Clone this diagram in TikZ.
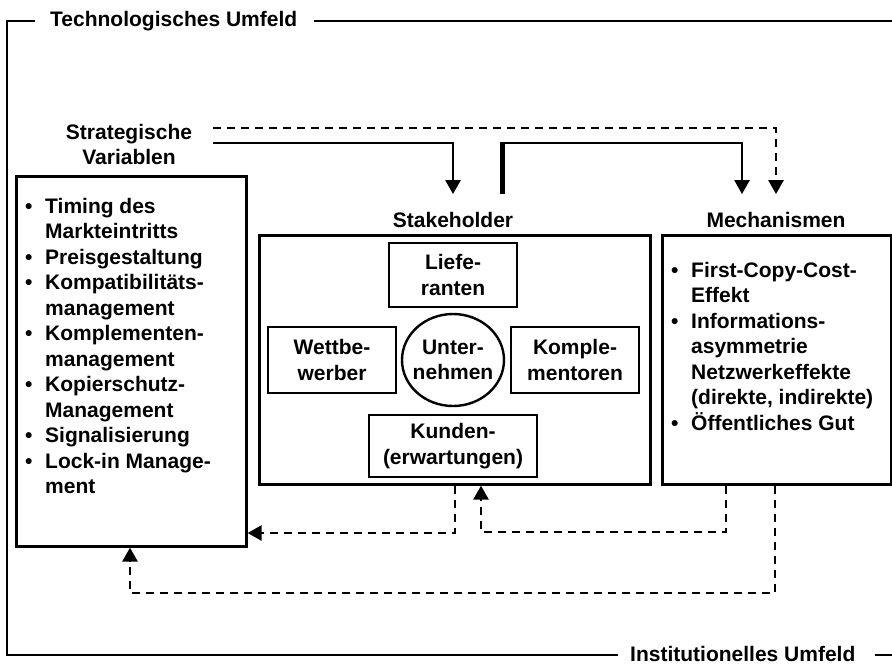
\documentclass[tikz,border=0pt]{standalone}
\usepackage{fontspec}
\setmainfont{Liberation Sans}
\usetikzlibrary{arrows.meta,shapes.geometric}
\newcommand{\bitem}[1]{\makebox[20pt][l]{\textbullet}#1}
\newcommand{\citem}[1]{\hspace*{20pt}#1}
\begin{document}
\begin{tikzpicture}[x=1pt,y=-1pt,
  txt/.style={font=\fontsize{21}{25.5}\selectfont\bfseries, inner sep=0pt, text=black},
  box/.style={draw, line width=2.6pt},
  ln/.style={line width=2.4pt},
  dsh/.style={line width=2.6pt, dash pattern=on 8pt off 6pt},
  arr/.style={-{Triangle[width=15pt,length=14pt]}},
]
\useasboundingbox (0,0) rectangle (892,665);

% frame
\node[txt, anchor=west] (tech) at (50,21) {Technologisches Umfeld};
\node[txt, anchor=west] (inst) at (630,654) {Institutionelles Umfeld};
\coordinate (cbl) at (7,655);
\coordinate (ctr) at (892,21);
\coordinate (cbr) at (892,655);
\draw[ln] ([xshift=-15pt]tech.west) -| (cbl) -- ([xshift=-12pt]inst.west |- cbl);
\draw[ln] ([xshift=17pt]tech.east) -- (ctr);
\draw[ln] ([xshift=19pt]inst.east |- cbr) -- (cbr);

% labels
\node[txt, align=center, anchor=north] (svl) at (129,124) {Strategische\\Variablen};
\node[txt, anchor=base] (stl) at (453,227) {Stakeholder};
\node[txt, anchor=base] (mcl) at (776,227) {Mechanismen};

% left box
\node[box, anchor=north west, minimum width=230pt, minimum height=370pt, inner sep=0pt] (sv) at (15,175) {};
\node[txt, align=left, anchor=north west] (svtext) at (25,198)
  {\bitem{Timing des}\\\citem{Markteintritts}\\\bitem{Preisgestaltung}\\\bitem{Kompatibilitäts-}\\\citem{management}\\\bitem{Komplementen-}\\\citem{management}\\\bitem{Kopierschutz-}\\\citem{Management}\\\bitem{Signalisierung}\\\bitem{Lock-in Manage-}\\\citem{ment}};

% mechanism box
\node[box, anchor=north west, minimum width=229pt, minimum height=249pt, inner sep=0pt] (mech) at (661,234) {};
\node[txt, align=left, anchor=north west] (mtext) at (671,262)
  {\bitem{First-Copy-Cost-}\\\citem{Effekt}\\\bitem{Informations-}\\\citem{asymmetrie}\\\citem{Netzwerkeffekte}\\\citem{(direkte, indirekte)}\\\bitem{Öffentliches Gut}};

% stakeholder box
\node[box, anchor=north west, minimum width=391pt, minimum height=249pt, inner sep=0pt] (stk) at (258,234) {};
\node[box, txt, align=center, minimum width=128pt, minimum height=64pt] (lief) at (453,275) {Liefe-\\ranten};
\node[box, txt, align=center, minimum width=128pt, minimum height=66pt] (wett) at (332,360) {Wettbe-\\werber};
\node[box, txt, align=center, minimum width=128pt, minimum height=66pt] (komp) at (575,360) {Komple-\\mentoren};
\node[box, txt, align=center, minimum width=168pt, minimum height=62pt] (kund) at (453,446) {Kunden-\\(erwartungen)};
\node[draw, line width=2.4pt, ellipse, minimum width=102pt, minimum height=92pt, inner sep=0pt] (unt) at (453,360) {};
\node[txt, align=center] (untt) at (unt.center) {Unter-\\nehmen};

% top connectors
\coordinate (s0) at (213,128);
\coordinate (s1) at (213,143);
\coordinate (t0) at (502,194);
\coordinate (t1) at (502,143);
\coordinate (c742) at (742,143);
\draw[dsh, arr, shorten >=17.5pt] (s0) -| (mcl.north);
\draw[ln, arr, shorten >=17.5pt] (s1) -| (stl.north);
\draw[ln, arr, shorten >=17.5pt] (t0) |- (c742) -- (c742 |- mcl.north);
\draw[line width=5pt] (t0) -- ([yshift=1.2pt]t1);

% bottom dashed connectors
\coordinate (d1) at (453,533);
\draw[dsh, arr] (stk.south) |- (sv.east |- d1);
\coordinate (m1) at (726,532);
\coordinate (k1) at (481,532);
\draw[dsh, arr] (m1 |- mech.south) -- (m1) -- (k1) -- (k1 |- stk.south);
\coordinate (m2) at (775,593);
\coordinate (l1) at (130,593);
\draw[dsh, arr] (m2 |- mech.south) -- (m2) -- (l1) -- (l1 |- sv.south);
\end{tikzpicture}
\end{document}
